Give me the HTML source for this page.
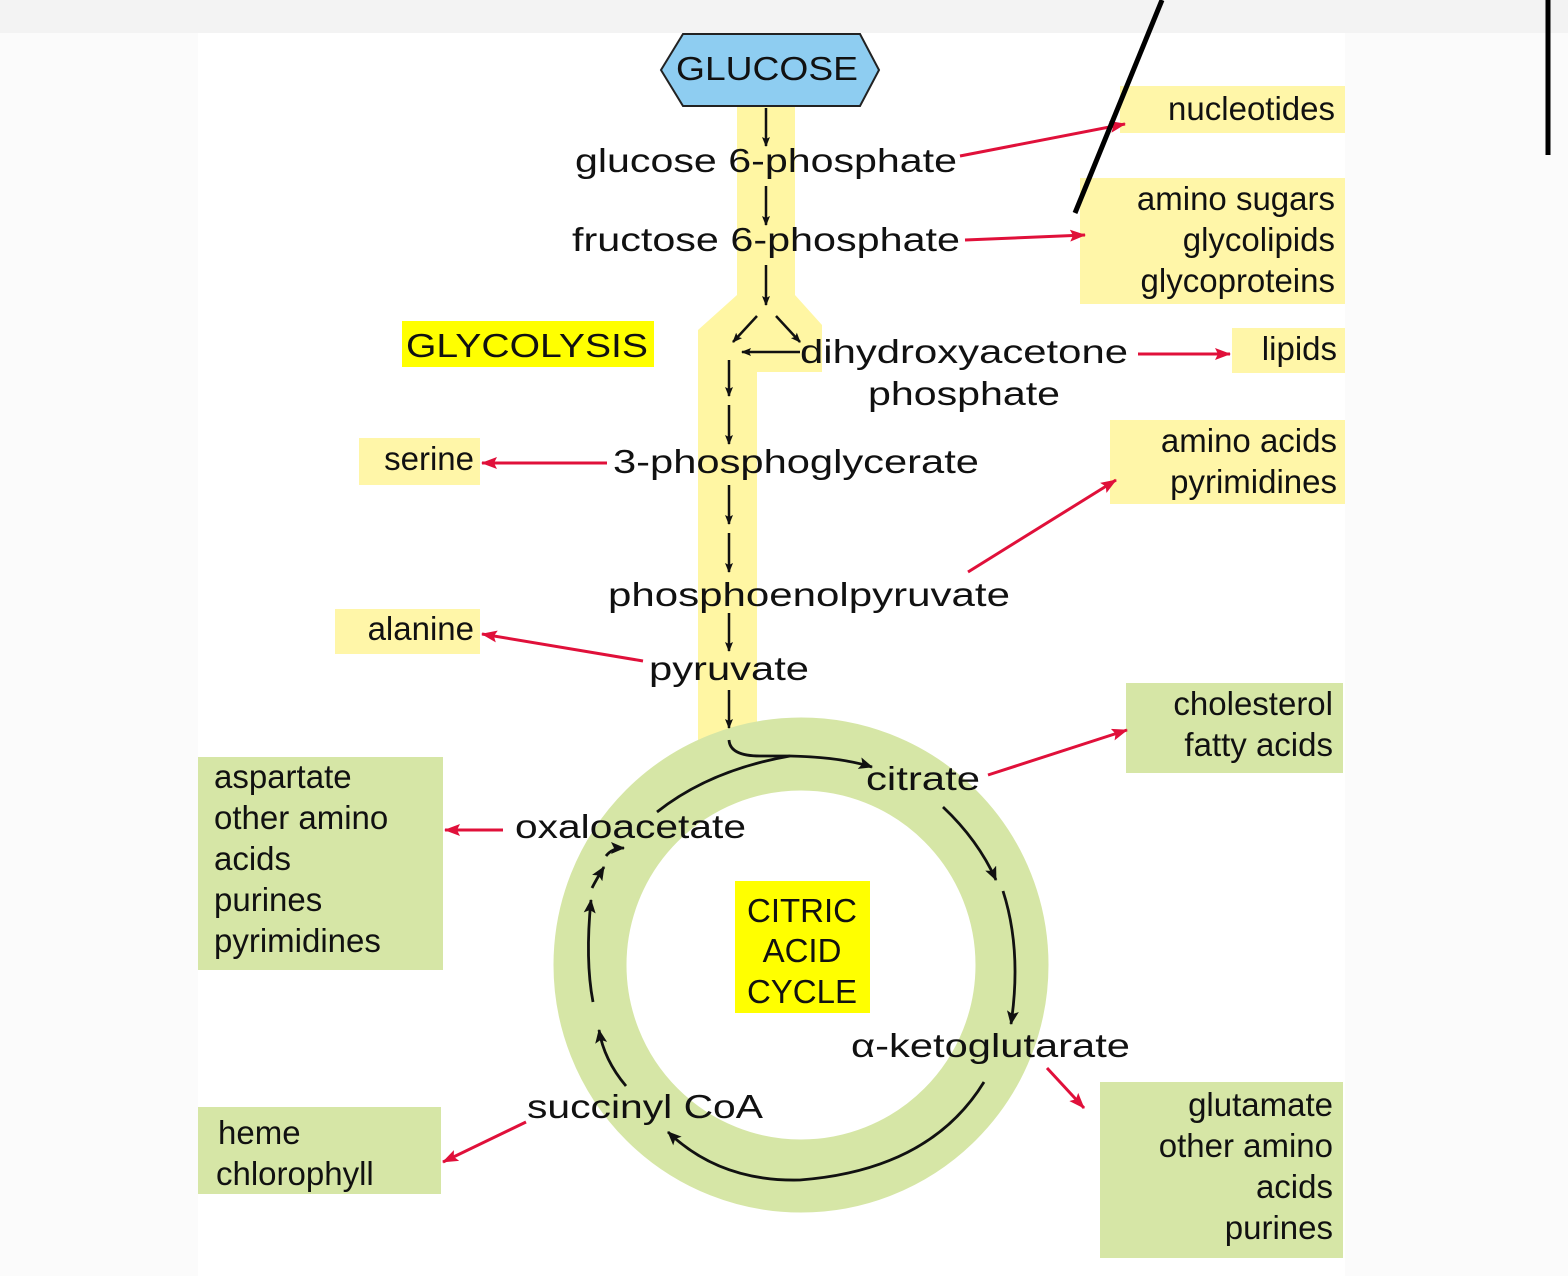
<!DOCTYPE html>
<html><head><meta charset="utf-8"><style>
html,body{margin:0;padding:0;background:#fff;}
svg{display:block;}
text{font-family:"Liberation Sans",sans-serif;font-size:33px;fill:#111;}
</style></head><body>
<svg width="1568" height="1276" viewBox="0 0 1568 1276" xmlns="http://www.w3.org/2000/svg">
<defs>
<marker id="ab" markerWidth="10" markerHeight="10" refX="9" refY="5" orient="auto" markerUnits="userSpaceOnUse" viewBox="0 0 10 10"><path d="M0,1 L10,5 L0,9 L2,5z" fill="#111"/></marker>
<marker id="ar" markerWidth="16" markerHeight="12" refX="15" refY="6" orient="auto" markerUnits="userSpaceOnUse" viewBox="0 0 16 12"><path d="M0,0 L16,6 L0,12 L3,6z" fill="#e0103a"/></marker>
<marker id="abk" markerWidth="14" markerHeight="12" refX="13" refY="6" orient="auto" markerUnits="userSpaceOnUse" viewBox="0 0 14 12"><path d="M0,0 L14,6 L0,12 L3,6z" fill="#111"/></marker>
</defs>
<rect x="0" y="0" width="1568" height="33" fill="#f3f3f3"/>
<rect x="0" y="33" width="198" height="1243" fill="#fbfbfb"/>
<rect x="1345" y="33" width="223" height="1243" fill="#fbfbfb"/>
<!-- yellow glycolysis path -->
<path d="M737,105 H795 V295 L822,325 V372 H757 V745 H698 V330 L737,295 Z" fill="#fff6a3"/>
<!-- ring -->
<circle cx="801" cy="965" r="211" fill="none" stroke="#d6e6a6" stroke-width="73"/>
<!-- boxes -->
<g fill="#fff6a8">
<rect x="1120" y="86" width="225" height="47"/>
<rect x="1080" y="178" width="265" height="126"/>
<rect x="1232" y="328" width="113" height="45"/>
<rect x="1110" y="420" width="235" height="84"/>
<rect x="359" y="438" width="121" height="47"/>
<rect x="335" y="609" width="145" height="45"/>
</g>
<g fill="#d6e6a6">
<rect x="1126" y="683" width="217" height="90"/>
<rect x="198" y="757" width="245" height="213"/>
<rect x="198" y="1107" width="243" height="87"/>
<rect x="1100" y="1082" width="243" height="176"/>
</g>
<rect x="402" y="321" width="252" height="46" fill="#ffff00"/>
<rect x="735" y="881" width="135" height="132" fill="#ffff00"/>
<!-- glucose -->
<polygon points="683,34 860,34 879,70 860,106 683,106 661,70" fill="#8ecdf1" stroke="#222" stroke-width="2"/>
<text x="767" y="80" text-anchor="middle" font-size="36" textLength="182" lengthAdjust="spacingAndGlyphs">GLUCOSE</text>
<!-- black arrows -->
<g stroke="#111" stroke-width="2.5" fill="none" marker-end="url(#ab)">
<line x1="766" y1="108" x2="766" y2="146"/>
<line x1="766" y1="186" x2="766" y2="225"/>
<line x1="766" y1="265" x2="766" y2="305"/>
<line x1="757" y1="316" x2="733" y2="342"/>
<line x1="776" y1="316" x2="800" y2="342"/>
<line x1="800" y1="352" x2="742" y2="352"/>
<line x1="729" y1="360" x2="729" y2="396"/>
<line x1="729" y1="405" x2="729" y2="444"/>
<line x1="729" y1="485" x2="729" y2="524"/>
<line x1="729" y1="533" x2="729" y2="572"/>
<line x1="729" y1="613" x2="729" y2="651"/>
<line x1="729" y1="690" x2="729" y2="728"/>
</g>
<!-- cycle arrows -->
<g stroke="#111" stroke-width="2.8" fill="none">
<path d="M729,740 Q730,756 760,756 L790,756 Q840,757 872,767" marker-end="url(#abk)"/>
<path d="M657,812 Q710,770 790,756"/>
<path d="M943,807 Q978,840 996,880" marker-end="url(#abk)"/>
<path d="M1003,891 Q1022,950 1011,1024" marker-end="url(#abk)"/>
<path d="M984,1082 Q930,1170 800,1180 Q720,1182 668,1132" marker-end="url(#abk)"/>
<path d="M626,1086 Q604,1060 599,1030" marker-end="url(#abk)"/>
<path d="M593,1002 Q585,960 591,900" marker-end="url(#abk)"/>
<path d="M592,888 Q596,880 604,867" marker-end="url(#abk)"/>
<path d="M606,856 Q612,848 624,848" marker-end="url(#abk)"/>
</g>
<!-- red arrows -->
<g stroke="#e0103a" stroke-width="3" fill="none" marker-end="url(#ar)">
<line x1="960" y1="156" x2="1125" y2="124"/>
<line x1="965" y1="240" x2="1085" y2="235"/>
<line x1="1138" y1="354" x2="1230" y2="354"/>
<line x1="607" y1="463" x2="482" y2="463"/>
<line x1="968" y1="572" x2="1116" y2="480"/>
<line x1="643" y1="661" x2="482" y2="634"/>
<line x1="988" y1="775" x2="1127" y2="730"/>
<line x1="503" y1="830" x2="445" y2="830"/>
<line x1="1047" y1="1068" x2="1084" y2="1108"/>
<line x1="526" y1="1122" x2="443" y2="1162"/>
</g>
<!-- labels -->
<text x="575" y="172" textLength="382" lengthAdjust="spacingAndGlyphs">glucose 6-phosphate</text>
<text x="572" y="251" textLength="388" lengthAdjust="spacingAndGlyphs">fructose 6-phosphate</text>
<text x="800" y="363" textLength="328" lengthAdjust="spacingAndGlyphs">dihydroxyacetone</text>
<text x="868" y="405" textLength="192" lengthAdjust="spacingAndGlyphs">phosphate</text>
<text x="613" y="473" textLength="366" lengthAdjust="spacingAndGlyphs">3-phosphoglycerate</text>
<text x="608" y="606" textLength="402" lengthAdjust="spacingAndGlyphs">phosphoenolpyruvate</text>
<text x="649" y="680" textLength="160" lengthAdjust="spacingAndGlyphs">pyruvate</text>
<text x="866" y="790" textLength="114" lengthAdjust="spacingAndGlyphs">citrate</text>
<text x="515" y="838" textLength="231" lengthAdjust="spacingAndGlyphs">oxaloacetate</text>
<text x="851" y="1057" textLength="279" lengthAdjust="spacingAndGlyphs">α-ketoglutarate</text>
<text x="527" y="1118" textLength="236" lengthAdjust="spacingAndGlyphs">succinyl CoA</text>
<text x="406" y="357" font-size="36" textLength="242" lengthAdjust="spacingAndGlyphs">GLYCOLYSIS</text>
<g font-size="36" text-anchor="middle">
<text x="802" y="922">CITRIC</text>
<text x="802" y="962">ACID</text>
<text x="802" y="1003">CYCLE</text>
</g>
<g text-anchor="end">
<text x="1335" y="120">nucleotides</text>
<text x="1335" y="210">amino sugars</text>
<text x="1335" y="251">glycolipids</text>
<text x="1335" y="292">glycoproteins</text>
<text x="1337" y="360">lipids</text>
<text x="1337" y="452">amino acids</text>
<text x="1337" y="493">pyrimidines</text>
<text x="474" y="470">serine</text>
<text x="474" y="640">alanine</text>
<text x="1333" y="715">cholesterol</text>
<text x="1333" y="756">fatty acids</text>
<text x="1333" y="1116">glutamate</text>
<text x="1333" y="1157">other amino</text>
<text x="1333" y="1198">acids</text>
<text x="1333" y="1239">purines</text>
</g>
<text x="214" y="788">aspartate</text>
<text x="214" y="829">other amino</text>
<text x="214" y="870">acids</text>
<text x="214" y="911">purines</text>
<text x="214" y="952">pyrimidines</text>
<text x="218" y="1144">heme</text>
<text x="216" y="1185">chlorophyll</text>
<!-- black annotation lines -->
<line x1="1075" y1="213" x2="1162" y2="0" stroke="#000" stroke-width="5"/>
<line x1="1548" y1="0" x2="1548" y2="155" stroke="#000" stroke-width="5"/>
</svg>
</body></html>
